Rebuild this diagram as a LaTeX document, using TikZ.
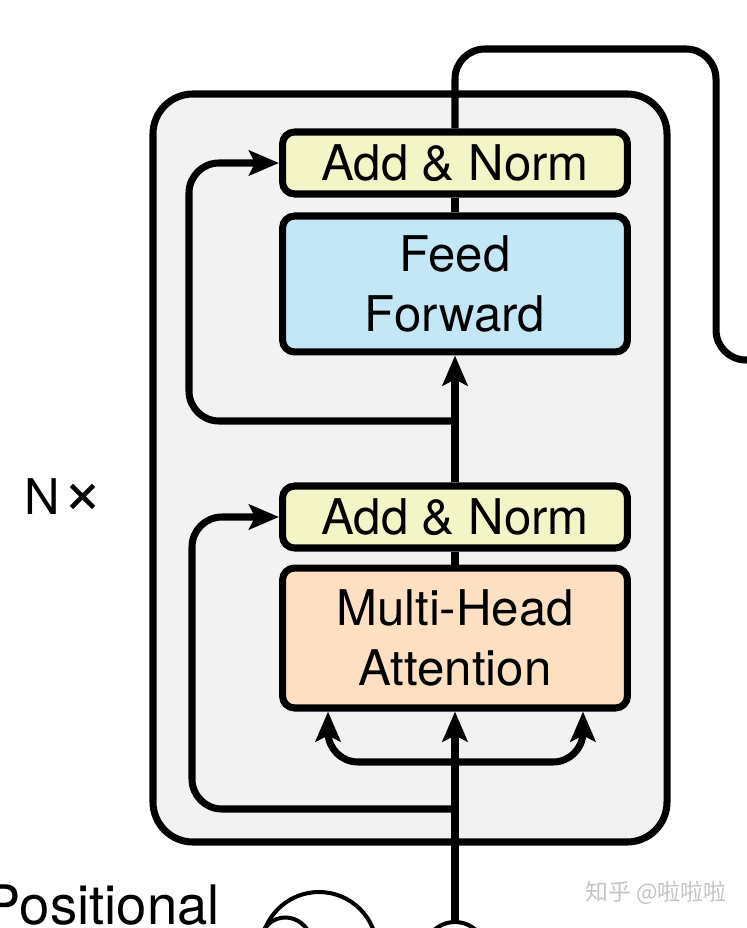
\documentclass[tikz,border=0pt]{standalone}
\usepackage{fontspec}
\setmainfont{TeX Gyre Heros}
\newfontfamily\cjk{Noto Sans CJK SC}
\usetikzlibrary{arrows.meta, positioning}
\definecolor{normfill}{RGB}{243, 245, 199}
\definecolor{fffill}{RGB}{196, 231, 246}
\definecolor{attfill}{RGB}{252, 224, 193}
\definecolor{layerfill}{RGB}{242, 242, 242}
\definecolor{mark}{RGB}{196, 196, 196}

\begin{document}
\begin{tikzpicture}[x=0.02cm, y=-0.02cm, line width=4pt,
    block/.style={draw, rounded corners=0.24cm, minimum width=6.9cm, inner sep=0pt,
                  align=center, font=\fontsize{28}{34}\selectfont},
    flow/.style={-{Stealth[length=0.6cm, width=0.5cm, inset=0.12cm]}, rounded corners=0.6cm},
    label/.style={font=\fontsize{28}{34}\selectfont}]

  \useasboundingbox (0, 0) rectangle (746, 928);

  % the repeated layer
  \draw[fill=layerfill, rounded corners=0.8cm] (153, 94) rectangle (667, 842);

  \node[block, fill=attfill, minimum height=2.8cm] (mha) at (455, 638) {Multi-Head\\Attention};
  \node[block, fill=normfill, minimum height=1.24cm] (norm1) at (455, 517) {Add \& Norm};
  \node[block, fill=fffill, minimum height=2.72cm] (ff) at (455, 284) {Feed\\Forward};
  \node[block, fill=normfill, minimum height=1.24cm] (norm2) at (455, 163) {Add \& Norm};

  \node[label] (nx) at (64, 497) {N\hspace{1pt}{\fontsize{40}{40}\selectfont ×}};
  \node[font=\fontsize{31}{36}\selectfont, anchor=base east] (pos) at (229, 924) {Positional};
  \node[text=mark, font=\cjk\fontsize{13}{15}\selectfont] (mark) at (656, 893) {知乎 @啦啦啦};

  % input sum and positional encoding
  \node[circle, draw, line width=2.3pt, minimum size=1.24cm, inner sep=0pt] (add) at (455, 953) {};
  \node[circle, draw, line width=2.3pt, minimum size=2.32cm, inner sep=0pt] (wave) at (319, 950) {};
  \draw[line width=2.3pt] (260, 940) .. controls (266, 910) and (304, 910) .. (312, 940);

  \coordinate (split) at (455, 762);
  \coordinate (res1) at (455, 809);
  \coordinate (res2) at (455, 421);
  \coordinate (out) at (760, 360);

  % main path
  \draw[flow] (add) -- (mha);
  \draw[flow] (split) -| ([xshift=-2.54cm]mha.south);
  \draw[flow] (split) -| ([xshift=2.56cm]mha.south);
  \draw (mha) -- (norm1);
  \draw[flow] (norm1) -- (ff);
  \draw (ff) -- (norm2);
  \draw[rounded corners=0.6cm] (norm2.north) -- (455, 49) -- (716, 49) -- (716, 360) -- (out);

  % residual connections
  \draw[flow] (res1) -- (192, 809) |- (norm1.west);
  \draw[flow] (res2) -- (189, 421) |- (norm2.west);

\end{tikzpicture}
\end{document}
